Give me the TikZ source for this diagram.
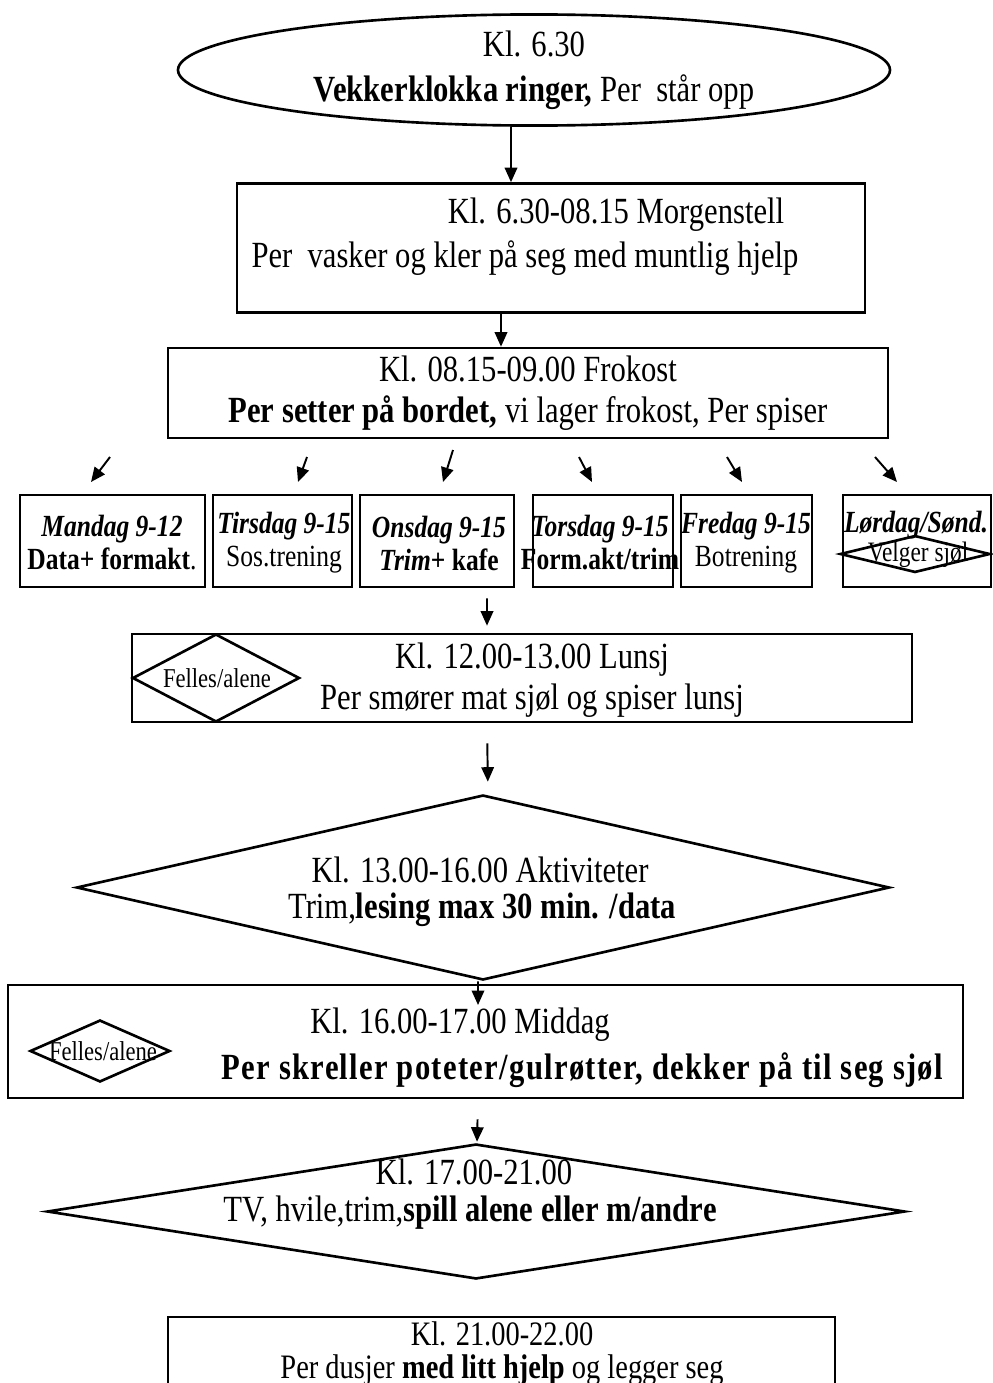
\documentclass[tikz,border=0pt]{standalone}
\usepackage{fontspec}
\setmainfont{Liberation Serif}[FakeStretch=0.83]
\usetikzlibrary{arrows.meta,shapes.geometric}
\newcommand{\bigf}{\fontsize{21}{23}\selectfont}
\newcommand{\ovalf}{\fontsize{21}{25.5}\selectfont}
\newcommand{\dayf}{\fontsize{17.5}{18.8}\selectfont}
\newcommand{\smallf}{\fontsize{15.5}{17}\selectfont}
\newcommand{\velgerf}{\fontsize{16}{17}\selectfont}
\newcommand{\nattf}{\fontsize{19.5}{22}\selectfont}
\tikzset{
  >={Triangle[length=2.9mm,width=2.5mm]},
  arr/.style={->,line width=1.1pt},
  sz/.style 2 args={minimum width=#1*0.2mm,minimum height=#2*0.2mm},
  box/.style={draw,line width=1.5pt,inner sep=0pt},
  dia/.style={diamond,draw,line width=1.5pt,inner sep=0pt},
  oval/.style={ellipse,draw,line width=1.5pt,inner sep=0pt,align=center,font=\ovalf},
  txt/.style={inner sep=0pt,align=center,font=\bigf},
  daytxt/.style={inner sep=0pt,align=center,font=\dayf},
  tiny/.style={inner sep=0pt,font=\smallf},
}
\begin{document}
\begin{tikzpicture}[x=0.2mm,y=-0.2mm]
  \useasboundingbox (0,0) rectangle (993,1383);
  % morning
  \node[oval,sz={712}{100}] (wake) at (534,70) {Kl. 6.30\\\textbf{Vekkerklokka ringer,} Per\ \ står opp};
  \node[box,sz={628}{129}] (morgen) at (551,248) {};
  \node[txt] (morgen1) at (616,215) {Kl. 6.30-08.15 Morgenstell};
  \node[txt] (morgen2) at (525,258) {Per\ \ vasker og kler på seg med muntlig hjelp};
  \node[box,sz={720}{90},txt] (frokost) at (528,393) {Kl. 08.15-09.00 Frokost\\\textbf{Per setter på bordet,} vi lager frokost, Per spiser};
  \draw[arr] ([xshift=-4.6mm]wake.south) -- ([xshift=-8mm]morgen.north);
  \draw[arr] ([xshift=-10mm]morgen.south) -- ([xshift=-5.4mm]frokost.north);
  % days
  \foreach \n/\x/\w in {man/112.5/185,tir/282.5/139,ons/437/154,tor/603/140,fre/746.5/131,lor/917/148}
    \node[box,sz={\w}{92}] (\n) at (\x,541) {};
  \node[daytxt] (mantxt) at (112,543) {\textbf{\textit{Mandag 9-12}}\\\textbf{Data+ formakt}.};
  \node[daytxt] (tirtxt) at (284,543) {\textbf{\textit{Tirsdag 9-15}}\\Sos.trening};
  \node[daytxt] (onstxt) at (439,543) {\textbf{\textit{Onsdag 9-15}}\\\textbf{\textit{Trim}+ kafe}};
  \node[daytxt] (tortxt) at (600,543) {\textbf{\textit{Torsdag 9-15}}\\\textbf{Form.akt/trim}};
  \node[daytxt] (fretxt) at (746,543) {\textbf{\textit{Fredag 9-15}}\\Botrening};
  \node[daytxt] (lortxt) at (916,525) {\textbf{\textit{Lørdag/Sønd.}}};
  \node[dia,sz={150}{37}] (velger) at (915,554) {};
  \node[tiny,font=\velgerf] (velgertxt) at (918,555) {Velger sjøl};
  \foreach \a/\b/\c/\d [count=\i] in {110/457/91/482,307/457/298/482,453/450/443/482,579/457/592/482,727/457/742/482,875/457/897/482}{
    \coordinate (s\i) at (\a,\b);
    \coordinate (e\i) at (\c,\d);
    \draw[arr] (s\i) -- (e\i);
  }
  % lunch and afternoon
  \node[box,sz={780}{88}] (lunsj) at (522,678) {};
  \node[dia,sz={167}{88}] (felles1) at (216,678) {};
  \node[tiny] (felles1txt) at (217,678) {Felles/alene};
  \node[txt] (lunsjtxt) at (532,680) {Kl. 12.00-13.00 Lunsj\\Per smører mat sjøl og spiser lunsj};
  \draw[arr,shorten <=2mm,shorten >=1.4mm] ([xshift=10mm]ons.south) -- ([xshift=-7mm]lunsj.north);
  \node[dia,sz={813}{185}] (aktiv) at (483,887.5) {};
  \node[txt] (aktiv1) at (480,870) {Kl. 13.00-16.00 Aktiviteter};
  \node[txt] (aktiv2) at (482,910) {Trim,\textbf{lesing max 30 min. /data}};
  \draw[arr,shorten <=4mm,shorten >=2.4mm] ([xshift=-7mm]lunsj.south) -- ([xshift=1mm]aktiv.north);
  % dinner and evening
  \node[box,sz={955}{113}] (middag) at (485.5,1041.5) {};
  \node[dia,sz={140}{62}] (felles2) at (100,1051) {};
  \node[tiny] (felles2txt) at (103,1051) {Felles/alene};
  \node[txt] (middag1) at (460,1025) {Kl. 16.00-17.00 Middag};
  \node[txt] (middag2) at (583,1070) {\addfontfeature{LetterSpace=3.5}\textbf{Per skreller poteter/gulrøtter, dekker på til seg sjøl}};
  \coordinate (dn) at (478,1005);
  \draw[arr] ([xshift=-1mm]aktiv.south) -- (dn);
  \node[dia,sz={858}{135}] (kveld) at (476,1211.5) {};
  \node[txt] (kveld1) at (474,1172) {Kl. 17.00-21.00};
  \node[txt] (kveld2) at (470,1213) {TV, hvile,trim,\textbf{spill alene eller m/andre}};
  \draw[arr,shorten <=4mm,shorten >=0.2mm] ([xshift=-1.5mm]middag.south) -- ([xshift=0.2mm]kveld.north);
  \node[box,sz={667}{103}] (natt) at (501.5,1368.5) {};
  \node[txt,font=\nattf,anchor=base] (natt1) at (502,1345) {Kl. 21.00-22.00};
  \node[txt,font=\nattf,anchor=base] (natt2) at (502,1378) {Per dusjer \textbf{med litt hjelp} og legger seg};
\end{tikzpicture}
\end{document}
